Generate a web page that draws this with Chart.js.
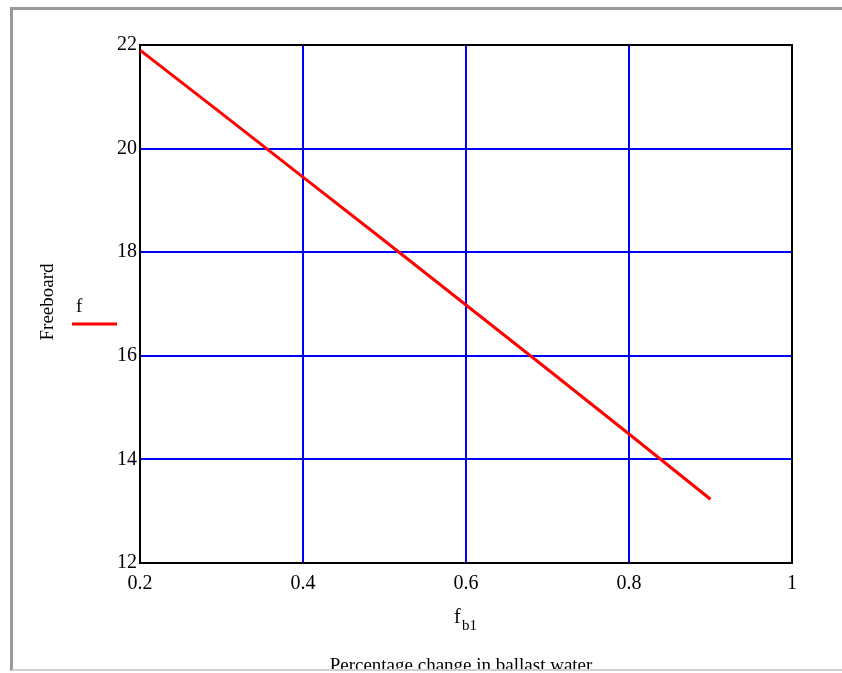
<!DOCTYPE html>
<html>
<head>
<meta charset="utf-8">
<script src="https://cdn.jsdelivr.net/npm/chart.js@4/dist/chart.umd.min.js"></script>
<style>
    html, body { margin: 0; padding: 0; background: #fff; }
    #wrap { position: relative; width: 842px; height: 673px; overflow: hidden; }
    #frame {
        position: absolute; left: 10px; top: 7px; width: 840px; height: 659px;
        border-left: 3px solid #9a9a9a; border-top: 3px solid #9a9a9a;
        border-bottom: 2px solid #d0d0d0;
    }
    canvas { position: absolute; left: 0; top: 0; }
</style>
</head>
<body>
<div id="wrap">
    <div id="frame"></div>
    <canvas id="chart" width="842" height="673"></canvas>
</div>
<script>
// f_b1 values (fraction of ballast water) and freeboard f
const fb1 = [0.2, 0.3, 0.4, 0.5, 0.6, 0.7, 0.8, 0.9];
const freeboard = [21.9, 20.68, 19.45, 18.22, 16.98, 15.74, 14.49, 13.23];

const xTickValues = [0.2, 0.4, 0.6, 0.8, 1];
const xTickLabels = ['0.2', '0.4', '0.6', '0.8', '1'];
const yTickValues = [12, 14, 16, 18, 20, 22];
const yTickLabels = ['12', '14', '16', '18', '20', '22'];

const serif = '"Liberation Serif", "Times New Roman", serif';

const textPlugin = {
    id: 'mathcadText',
    beforeDatasetsDraw(chart) {
        const { ctx, chartArea } = chart;
        ctx.save();
        ctx.strokeStyle = '#000';
        ctx.lineWidth = 2;
        ctx.strokeRect(chartArea.left, chartArea.top,
            chartArea.right - chartArea.left, chartArea.bottom - chartArea.top);
        ctx.restore();
    },
    afterDraw(chart) {
        const ctx = chart.ctx;
        ctx.save();
        ctx.fillStyle = '#000';

        // y axis title
        ctx.font = '19px ' + serif;
        ctx.textAlign = 'center';
        ctx.textBaseline = 'middle';
        ctx.translate(48, 302);
        ctx.rotate(-Math.PI / 2);
        ctx.fillText('Freeboard', 0, 0);
        ctx.setTransform(1, 0, 0, 1, 0, 0);

        // trace label + line sample
        ctx.textAlign = 'left';
        ctx.textBaseline = 'alphabetic';
        ctx.fillText('f', 76, 312);
        ctx.strokeStyle = '#ff0000';
        ctx.lineWidth = 3;
        ctx.beginPath();
        ctx.moveTo(72, 324);
        ctx.lineTo(117, 324);
        ctx.stroke();

        // x axis title f_b1
        ctx.font = '20px ' + serif;
        ctx.fillText('f', 454, 623);
        ctx.font = '15px ' + serif;
        ctx.fillText('b1', 462, 630);

        // region label, cut off by the frame edge
        ctx.beginPath();
        ctx.rect(0, 0, 842, 669);
        ctx.clip();
        ctx.font = '19px ' + serif;
        ctx.textAlign = 'center';
        ctx.fillText('Percentage change in ballast water', 461, 671);
        ctx.restore();
    }
};

new Chart(document.getElementById('chart'), {
    type: 'scatter',
    data: {
        datasets: [{
            label: 'f',
            data: fb1.map((x, i) => ({ x: x, y: freeboard[i] })),
            showLine: true,
            borderColor: '#ff0000',
            borderWidth: 3,
            pointRadius: 0,
            tension: 0
        }]
    },
    options: {
        responsive: false,
        animation: false,
        layout: { padding: { left: 0, top: 45, right: 50, bottom: 0 } },
        plugins: {
            legend: { display: false },
            tooltip: { enabled: false }
        },
        scales: {
            x: {
                type: 'linear',
                min: 0.2,
                max: 1,
                afterBuildTicks: scale => { scale.ticks = xTickValues.map(v => ({ value: v })); },
                afterFit: scale => { scale.height = 110; },
                ticks: {
                    callback: (v, i) => xTickLabels[i],
                    color: '#000',
                    padding: 9,
                    maxRotation: 0,
                    font: { family: serif, size: 20 }
                },
                grid: { color: 'rgb(0,0,255)', lineWidth: 2, drawTicks: false },
                border: { display: false }
            },
            y: {
                min: 12,
                max: 22,
                afterBuildTicks: scale => { scale.ticks = yTickValues.map(v => ({ value: v })); },
                afterFit: scale => { scale.width = 140; },
                ticks: {
                    callback: (v, i) => yTickLabels[i],
                    color: '#000',
                    padding: 3,
                    font: { family: serif, size: 20 }
                },
                grid: { color: 'rgb(0,0,255)', lineWidth: 2, drawTicks: false },
                border: { display: false }
            }
        }
    },
    plugins: [textPlugin]
});
</script>
</body>
</html>
